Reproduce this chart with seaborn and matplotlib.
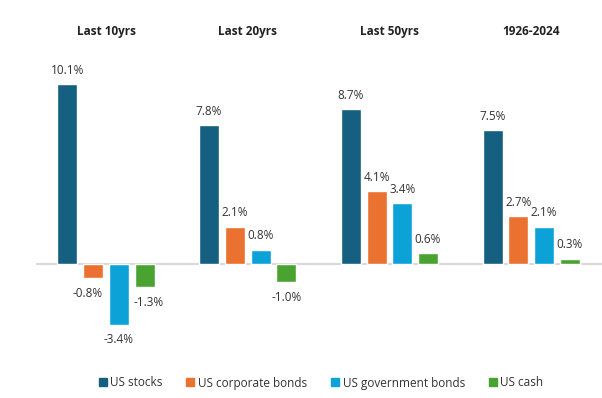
import numpy as np
import pandas as pd
import seaborn as sns
import matplotlib.pyplot as plt
from matplotlib.lines import Line2D

# annualised real returns by period
periods = ["Last 10yrs", "Last 20yrs", "Last 50yrs", "1926-2024"]
assets = ["US stocks", "US corporate bonds", "US government bonds", "US cash"]
us_stocks = [10.1, 7.8, 8.7, 7.5]
us_corp_bonds = [-0.8, 2.1, 4.1, 2.7]
us_gov_bonds = [-3.4, 0.8, 3.4, 2.1]
us_cash = [-1.3, -1.0, 0.6, 0.3]
colors = ["#155f80", "#ea7130", "#0ca2d8", "#4aa331"]

df = pd.DataFrame({
    "period": periods * 4,
    "asset": np.repeat(assets, 4),
    "value": us_stocks + us_corp_bonds + us_gov_bonds + us_cash,
})

sns.set_style("white")
plt.rcParams["font.family"] = ["Open Sans", "DejaVu Sans"]

fig = plt.figure(figsize=(6.02, 3.98), dpi=100)
ax = fig.add_axes([36 / 602, 1 - 350 / 398, 1 - 36 / 602, 300 / 398])

sns.barplot(data=df, x="period", y="value", hue="asset", order=periods,
            hue_order=assets, palette=colors, width=0.726, gap=0.22,
            ax=ax, legend=False, saturation=1)

# px per % : 17.8, baseline at y=264
ppp = 17.8
ax.set_ylim(-86 / ppp, 214 / ppp)
ax.set_xlim(-0.494, 3.5)
ax.axhline(0, color="#d9d9d9", lw=1.5, zorder=0)
ax.axis("off")

# value labels
nudge = {(-0.8): -4, (-1.3): 3}
for cont in ax.containers:
    for bar, v in zip(cont.patches, cont.datavalues):
        cx = bar.get_x() + bar.get_width() / 2
        dx = nudge.get(round(v, 1), 0) if v < 0 and cont is not ax.containers[0] else 0
        if v >= 0:
            ax.annotate(f"{v:.1f}%", (cx, v), xytext=(dx, 10), textcoords="offset points",
                        ha="center", va="center", fontsize=8.5, color="#333333")
        else:
            ax.annotate(f"{v:.1f}%", (cx, v), xytext=(dx, -11), textcoords="offset points",
                        ha="center", va="center", fontsize=8.5, color="#333333")

# group titles
for i, p in enumerate(periods):
    ax.text(i, 232 / ppp, p, ha="center", va="center", fontsize=8.5,
            fontweight="bold", color="#222222", clip_on=False)

handles = [Line2D([], [], marker="s", ls="", color=c, markersize=6) for c in colors]
fig.legend(handles, assets, loc="center", bbox_to_anchor=(321 / 602, 1 - 383 / 398),
           ncol=4, frameon=False, fontsize=8.5, handlelength=0.7, handletextpad=0.3,
           columnspacing=2.0, labelcolor="#333333")

fig.savefig("out.png", dpi=100)
